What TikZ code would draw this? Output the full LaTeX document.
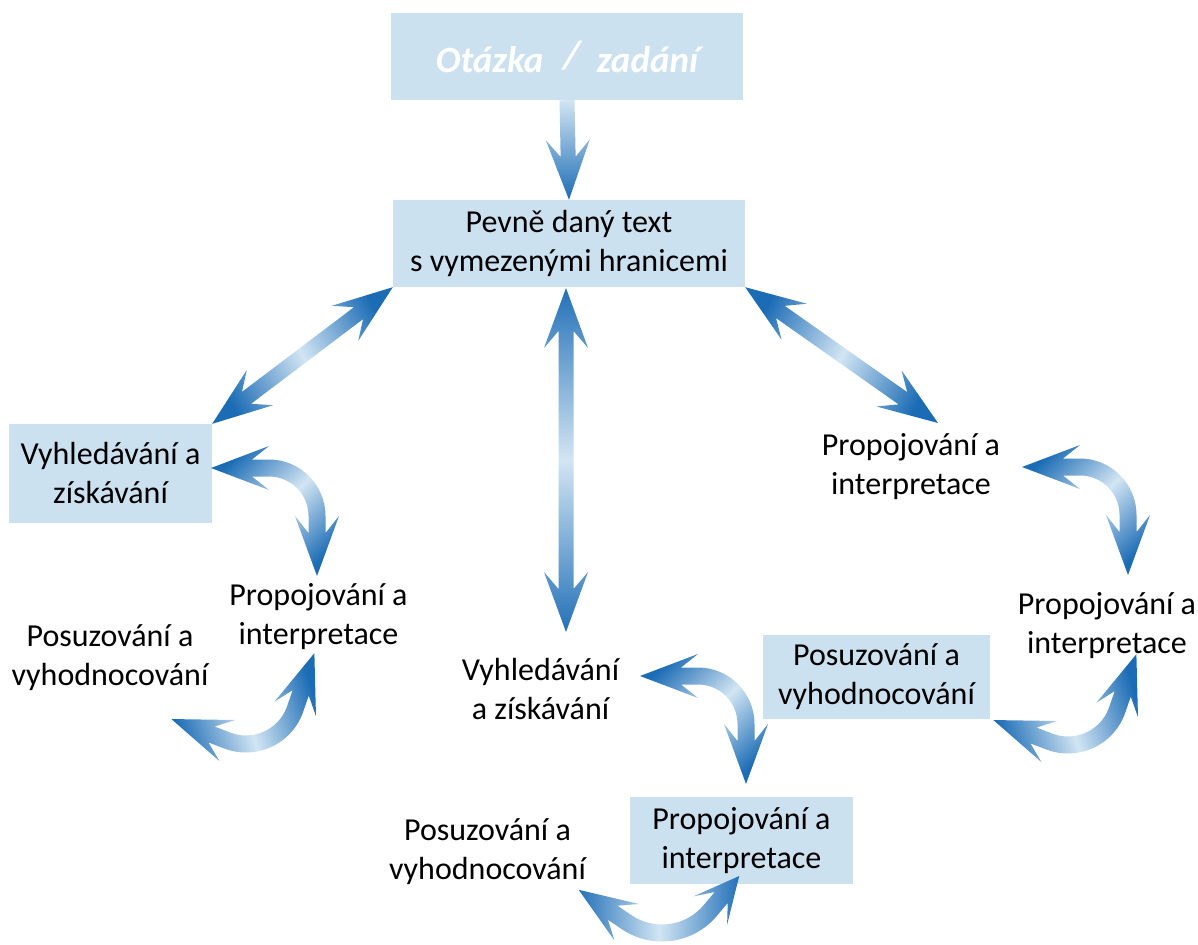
\documentclass[tikz,border=0pt]{standalone}
\usepackage{fontspec}
\setmainfont{Carlito}
\usetikzlibrary{calc}
\definecolor{boxblue}{RGB}{204,225,240}
\definecolor{arrowdark}{RGB}{28,108,181}
\definecolor{arrowlight}{RGB}{210,229,243}
\pgfdeclarehorizontalshading{arrowshade}{100bp}{color(0bp)=(arrowdark); color(24bp)=(arrowdark); color(50bp)=(arrowlight); color(76bp)=(arrowdark); color(100bp)=(arrowdark)}
% block arrow sizes (in px)
\def\bwid{7.5}\def\hwid{22}\def\hlen{60}\def\hneck{43}
% straight block arrow with two heads: tip, tip, shading angle
\newcommand{\dblarrow}[3]{%
  \shade[shading=arrowshade, shading angle=#3]
    (#1) -- ($(#1)!\hlen pt!(#2)!\hwid pt!90:(#2)$)
    -- ($(#1)!\hneck pt!(#2)!\bwid pt!90:(#2)$)
    -- ($(#2)!\hneck pt!(#1)!\bwid pt!-90:(#1)$)
    -- ($(#2)!\hlen pt!(#1)!\hwid pt!-90:(#1)$)
    -- (#2)
    -- ($(#2)!\hlen pt!(#1)!\hwid pt!90:(#1)$)
    -- ($(#2)!\hneck pt!(#1)!\bwid pt!90:(#1)$)
    -- ($(#1)!\hneck pt!(#2)!\bwid pt!-90:(#2)$)
    -- ($(#1)!\hlen pt!(#2)!\hwid pt!-90:(#2)$)
    -- cycle;}
% straight block arrow with one head: tail, tip
\newcommand{\sglarrow}[2]{%
  \shade[top color=arrowlight, bottom color=arrowdark]
    ($(#1)!\bwid pt!90:(#2)$)
    -- ($(#2)!\hneck pt!(#1)!\bwid pt!-90:(#1)$)
    -- ($(#2)!\hlen pt!(#1)!\hwid pt!-90:(#1)$)
    -- (#2)
    -- ($(#2)!\hlen pt!(#1)!\hwid pt!90:(#1)$)
    -- ($(#2)!\hneck pt!(#1)!\bwid pt!90:(#1)$)
    -- ($(#1)!\bwid pt!-90:(#2)$)
    -- cycle;}
% curved block arrow: centre, radius, from angle, to angle,
% head length at start, head length at end, shading angle
\newcommand{\curvarrow}[7]{%
  \pgfmathsetmacro\cvro{#2+\bwid+1}\pgfmathsetmacro\cvri{#2-\bwid-1}%
  \pgfmathsetmacro\cvRo{#2+\hwid}\pgfmathsetmacro\cvRi{#2-\hwid}%
  \pgfmathsetmacro\cvgap{\hlen-\hneck}%
  \pgfmathsetmacro\cvsa{#3-90}\pgfmathsetmacro\cvsb{#4+90}%
  \shade[shading=arrowshade, shading angle=#7]
    ($(#1)+(#3:\cvro)$) arc[start angle=#3, end angle=#4, radius=\cvro]
    -- ($(#1)+(#4:\cvro)+(\cvsb:\cvgap)$)
    -- ($(#1)+(#4:\cvRo)$)
    -- ($(#1)+(#4:#2)+(\cvsb:#6)$)
    -- ($(#1)+(#4:\cvRi)$)
    -- ($(#1)+(#4:\cvri)+(\cvsb:\cvgap)$)
    -- ($(#1)+(#4:\cvri)$)
    arc[start angle=#4, end angle=#3, radius=\cvri]
    -- ($(#1)+(#3:\cvri)+(\cvsa:\cvgap)$)
    -- ($(#1)+(#3:\cvRi)$)
    -- ($(#1)+(#3:#2)+(\cvsa:#5)$)
    -- ($(#1)+(#3:\cvRo)$)
    -- ($(#1)+(#3:\cvro)+(\cvsa:\cvgap)$)
    -- cycle;}
\tikzset{
  txtnode/.style={inner sep=0pt, align=center, font=\fontsize{32}{39}\selectfont},
  bluebox/.style={txtnode, fill=boxblue}
}
\begin{document}
\begin{tikzpicture}[x=1pt,y=-1pt]
\useasboundingbox (0,0) rectangle (1198,944);
\clip (0,0) rectangle (1198,944);
%
% boxes and texts
\node[bluebox, minimum width=352pt, minimum height=87pt, text=white,
  font=\fontsize{37}{40}\selectfont\bfseries\itshape] (ask) at (567,56.5)
  {Otázka\hspace{20pt}\raisebox{4pt}{\fontsize{40}{40}\selectfont\bfseries/}\hspace{16pt}zadání};
\node[bluebox, minimum width=352pt, minimum height=87pt] (fixtxt) at (569,243.5)
  {Pevně daný text\\s vymezenými hranicemi};
\node[bluebox, minimum width=203pt, minimum height=99pt] (find1) at (110.5,473.5)
  {Vyhledávání a\\získávání};
\node[txtnode] (link1) at (318.5,617) {Propojování a\\interpretace};
\node[txtnode] (judge1) at (110,658) {Posuzování a\\vyhodnocování};
\node[txtnode] (link2) at (911,467) {Propojování a\\interpretace};
\node[txtnode] (link3) at (1107,626) {Propojování a\\interpretace};
\node[txtnode] (find2) at (540.5,689) {Vyhledávání\\a získávání};
\node[bluebox, minimum width=227pt, minimum height=84pt] (judge2) at (876.5,677)
  {Posuzování a\\vyhodnocování};
\node[bluebox, minimum width=223pt, minimum height=87pt] (link4) at (741.5,840.5)
  {Propojování a\\interpretace};
\node[txtnode] (judge3) at (487.5,852) {Posuzování a\\vyhodnocování};
%
% straight arrows
\coordinate (vtop) at (566,288);
\coordinate (vtip) at (566,632);
\coordinate (rtip) at (938,423);
\sglarrow{ask.south}{fixtxt.north}
\dblarrow{fixtxt.south west}{find1.north east}{29}
\dblarrow{vtop}{vtip}{90}
\dblarrow{fixtxt.south east}{rtip}{-29}
%
% curved arrows
\coordinate (bend1) at (269,516);
\coordinate (bend2) at (1080,515);
\coordinate (bend3) at (698,724);
\coordinate (swing1) at (246,692);
\coordinate (swing2) at (1068,693);
\coordinate (swing3) at (662,870);
\curvarrow{bend1}{48}{-90}{0}{58}{60}{-46}
\curvarrow{bend2}{48}{-90}{0}{58}{60}{-46}
\curvarrow{bend3}{48}{-90}{0}{58}{60}{-46}
\curvarrow{swing1}{52}{19}{111}{59}{60}{18}
\curvarrow{swing2}{52}{19}{111}{59}{60}{18}
\curvarrow{swing3}{63}{40}{124}{45}{58}{0}
\end{tikzpicture}
\end{document}
